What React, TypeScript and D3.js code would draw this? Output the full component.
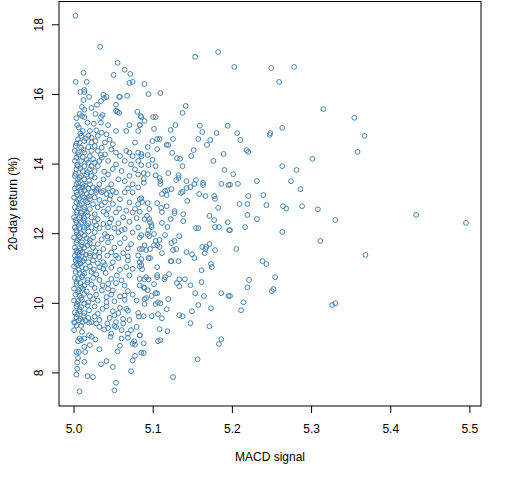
// @ts-nocheck
import React, { useEffect, useRef } from 'react';
import * as d3 from 'd3';

// sparse points to the right (MACD signal, 20-day return %)
const farPoints = [
  [5.2024, 16.79], [5.249, 16.76], [5.278, 16.79], [5.259, 16.36], [5.315, 15.58],
  [5.354, 15.33], [5.367, 14.81], [5.358, 14.35], [5.263, 15.04], [5.206, 14.89],
  [5.21, 14.69], [5.247, 14.84], [5.248, 14.89], [5.218, 14.4], [5.22, 14.35],
  [5.301, 14.15], [5.263, 13.94], [5.281, 13.83], [5.201, 13.71], [5.207, 13.43],
  [5.197, 13.41], [5.231, 13.51], [5.274, 13.51], [5.286, 13.28], [5.22, 13.08],
  [5.239, 13.11], [5.209, 12.85], [5.219, 12.85], [5.243, 12.82], [5.264, 12.79],
  [5.268, 12.72], [5.288, 12.79], [5.308, 12.7], [5.219, 12.54], [5.231, 12.42],
  [5.33, 12.39], [5.432, 12.54], [5.495, 12.31], [5.197, 12.1], [5.216, 12.19],
  [5.263, 12.05], [5.311, 11.79], [5.368, 11.39], [5.205, 11.56], [5.238, 11.21],
  [5.243, 11.13], [5.254, 10.75], [5.221, 10.67], [5.219, 10.46], [5.252, 10.41],
  [5.25, 10.35], [5.197, 10.21], [5.214, 10.03], [5.211, 9.8], [5.326, 9.95],
  [5.33, 10.0],
];

// middle band, MACD about 5.08 to 5.20
const midPoints = [
  [5.182, 17.22], [5.153, 17.08], [5.089, 16.3], [5.094, 16.01], [5.109, 16.04],
  [5.141, 15.67], [5.137, 15.47], [5.085, 15.35], [5.1, 15.35], [5.103, 15.35],
  [5.089, 15.24], [5.083, 15.12], [5.128, 15.12], [5.122, 14.98], [5.101, 15.01],
  [5.159, 15.1], [5.162, 14.92], [5.194, 15.1], [5.18, 14.89], [5.125, 14.72],
  [5.105, 14.72], [5.108, 14.72], [5.099, 14.66], [5.157, 14.72], [5.172, 14.69],
  [5.168, 14.55], [5.093, 14.49], [5.117, 14.55], [5.119, 14.55], [5.105, 14.43],
  [5.151, 14.4], [5.124, 14.32], [5.085, 14.29], [5.085, 14.22], [5.093, 14.26],
  [5.148, 14.23], [5.189, 14.29], [5.13, 14.17], [5.134, 14.15], [5.099, 14.12],
  [5.176, 14.09], [5.094, 13.97], [5.103, 13.94], [5.137, 13.94], [5.085, 13.97],
  [5.19, 13.83], [5.088, 13.74], [5.093, 13.71], [5.103, 13.68], [5.119, 13.74],
  [5.132, 13.68], [5.132, 13.6], [5.108, 13.6], [5.109, 13.51], [5.109, 13.43],
  [5.088, 13.57], [5.088, 13.46], [5.129, 13.54], [5.142, 13.51], [5.154, 13.54],
  [5.163, 13.46], [5.163, 13.4], [5.152, 13.43], [5.186, 13.43], [5.195, 13.4],
  [5.123, 13.28], [5.118, 13.25], [5.142, 13.31], [5.137, 13.2], [5.135, 13.17],
  [5.147, 13.34], [5.115, 13.23], [5.111, 13.14], [5.117, 13.11], [5.158, 13.14],
  [5.166, 13.08], [5.177, 13.08], [5.178, 13.0], [5.143, 12.94], [5.085, 13.02],
  [5.086, 12.91], [5.093, 12.88], [5.105, 12.88], [5.117, 12.79], [5.11, 12.74],
  [5.182, 12.74], [5.095, 12.71], [5.127, 12.65], [5.127, 12.59], [5.138, 12.56],
  [5.138, 12.36], [5.111, 12.62], [5.111, 12.31], [5.089, 12.42], [5.095, 12.42],
  [5.092, 12.51], [5.122, 12.42], [5.171, 12.51], [5.177, 12.39], [5.194, 12.33],
  [5.096, 12.33], [5.098, 12.25], [5.098, 12.19], [5.118, 12.19], [5.154, 12.16],
  [5.157, 12.16], [5.178, 12.19], [5.183, 12.19], [5.196, 12.1], [5.094, 12.1],
  [5.101, 11.99], [5.093, 11.99], [5.095, 11.93], [5.085, 11.96], [5.115, 11.96],
  [5.133, 11.93], [5.103, 11.79], [5.108, 11.82], [5.105, 11.67], [5.108, 11.62],
  [5.101, 11.67], [5.123, 11.73], [5.127, 11.79], [5.089, 11.67], [5.086, 11.56],
  [5.091, 11.53], [5.096, 11.56], [5.111, 11.44], [5.125, 11.53], [5.129, 11.56],
  [5.142, 11.47], [5.149, 11.41], [5.152, 11.3], [5.162, 11.62], [5.167, 11.62],
  [5.171, 11.7], [5.166, 11.56], [5.178, 11.53], [5.165, 11.44], [5.094, 11.3],
  [5.096, 11.3], [5.085, 11.27], [5.122, 11.21], [5.123, 11.21], [5.132, 11.21],
  [5.173, 11.13], [5.174, 11.04], [5.085, 11.1], [5.086, 10.98], [5.105, 11.04],
  [5.161, 10.95], [5.12, 10.84], [5.115, 10.75], [5.114, 10.69], [5.105, 10.81],
  [5.105, 10.75], [5.091, 10.75], [5.089, 10.69], [5.094, 10.69], [5.133, 10.69],
  [5.14, 10.69], [5.13, 10.58], [5.133, 10.49], [5.161, 10.61], [5.147, 10.52],
  [5.101, 10.55], [5.088, 10.46], [5.089, 10.44], [5.093, 10.38], [5.186, 10.29],
  [5.195, 10.21], [5.153, 10.29], [5.164, 10.21], [5.103, 10.29], [5.105, 10.29],
  [5.098, 10.21], [5.091, 10.15], [5.089, 10.12], [5.119, 10.12], [5.106, 10.03],
  [5.109, 10.0], [5.103, 9.98], [5.089, 9.98], [5.157, 9.95], [5.173, 9.86],
  [5.117, 9.83], [5.149, 9.77], [5.106, 9.69], [5.111, 9.57], [5.133, 9.66],
  [5.137, 9.63], [5.088, 9.63], [5.098, 9.63], [5.147, 9.43], [5.171, 9.34],
  [5.083, 9.08], [5.108, 9.26], [5.118, 9.2], [5.186, 8.97], [5.183, 8.83],
  [5.088, 8.85], [5.106, 8.91], [5.109, 8.94], [5.088, 8.57], [5.156, 8.39],
  [5.125, 7.88],
];

// upper part of the dense cluster near MACD 5.0
const denseTop = [
  [5.0017, 18.26], [5.033, 17.37], [5.055, 16.91], [5.064, 16.71], [5.071, 16.59],
  [5.012, 16.62], [5.05, 16.56], [5.002, 16.36], [5.016, 16.36], [5.07, 16.33],
  [5.074, 16.36], [5.008, 16.07], [5.013, 16.13], [5.013, 16.07], [5.037, 15.99],
  [5.041, 15.93], [5.038, 15.9], [5.019, 15.93], [5.057, 15.93], [5.058, 15.93],
  [5.067, 15.96], [5.012, 15.84], [5.034, 15.81], [5.029, 15.7], [5.053, 15.7],
  [5.01, 15.64], [5.013, 15.56], [5.022, 15.61], [5.053, 15.53], [5.055, 15.5],
  [5.057, 15.47], [5.08, 15.5], [5.007, 15.44], [5.01, 15.38], [5.013, 15.35],
  [5.027, 15.44], [5.036, 15.41], [5.034, 15.35], [5.003, 15.32], [5.084, 15.38],
  [5.017, 15.19], [5.025, 15.16], [5.034, 15.19], [5.043, 15.12], [5.07, 15.12],
  [5.083, 15.12], [5.006, 15.05], [5.011, 14.95], [5.02, 14.95], [5.028, 14.97],
  [5.035, 14.9], [5.053, 14.95], [5.066, 14.95], [5.081, 14.95], [5.009, 14.81],
  [5.018, 14.81], [5.022, 14.76], [5.03, 14.81], [5.041, 14.85], [5.005, 14.71],
  [5.013, 14.66], [5.022, 14.62], [5.003, 14.59], [5.007, 14.62], [5.039, 14.62],
  [5.049, 14.57], [5.077, 14.62], [5.009, 14.47], [5.018, 14.49], [5.026, 14.52],
  [5.035, 14.47], [5.047, 14.42], [5.066, 14.38], [5.001, 14.38], [5.005, 14.33],
  [5.013, 14.33], [5.022, 14.38], [5.03, 14.38], [5.039, 14.28], [5.053, 14.33],
  [5.07, 14.33], [5.081, 14.33], [5.003, 14.18], [5.011, 14.2], [5.02, 14.23],
  [5.024, 14.14], [5.035, 14.18], [5.058, 14.23], [5.074, 14.23], [5.001, 14.09],
  [5.009, 14.09], [5.018, 14.04], [5.026, 14.04], [5.032, 14.09], [5.043, 14.09],
  [5.064, 14.09], [5.081, 14.09], [5.005, 13.94], [5.013, 13.94], [5.022, 13.94],
  [5.03, 13.94], [5.053, 13.99], [5.072, 13.99], [5.003, 13.85], [5.011, 13.8],
  [5.02, 13.85], [5.026, 13.8], [5.06, 13.8], [5.077, 13.85], [5.001, 13.66],
  [5.009, 13.66], [5.016, 13.7], [5.022, 13.66], [5.043, 13.7], [5.07, 13.66],
  [5.081, 13.7], [5.005, 13.56], [5.013, 13.56], [5.026, 13.61], [5.037, 13.56],
  [5.056, 13.56], [5.064, 13.51], [5.003, 13.42], [5.011, 13.42], [5.02, 13.42],
  [5.032, 13.42], [5.047, 13.42], [5.074, 13.42],
];

// middle part of the dense cluster
const denseMid = [
  [5.001, 13.3], [5.005, 13.33], [5.011, 13.33], [5.018, 13.3], [5.024, 13.33],
  [5.03, 13.3], [5.037, 13.23], [5.043, 13.3], [5.049, 13.23], [5.068, 13.3],
  [5.081, 13.33], [5.003, 13.19], [5.009, 13.2], [5.016, 13.14], [5.022, 13.19],
  [5.028, 13.2], [5.035, 13.19], [5.041, 13.14], [5.053, 13.19], [5.064, 13.19],
  [5.074, 13.19], [5.0, 13.04], [5.007, 13.01], [5.013, 13.04], [5.02, 12.99],
  [5.026, 13.04], [5.032, 12.97], [5.045, 12.99], [5.058, 12.99], [5.083, 12.99],
  [5.003, 12.9], [5.01, 12.85], [5.017, 12.9], [5.024, 12.85], [5.039, 12.9],
  [5.049, 12.85], [5.07, 12.9], [5.081, 12.85], [5.001, 12.76], [5.006, 12.73],
  [5.013, 12.76], [5.02, 12.71], [5.03, 12.76], [5.043, 12.71], [5.077, 12.71],
  [5.003, 12.61], [5.009, 12.59], [5.016, 12.61], [5.026, 12.56], [5.037, 12.63],
  [5.053, 12.61], [5.066, 12.66], [5.074, 12.61], [5.083, 12.63], [5.0, 12.47],
  [5.007, 12.47], [5.013, 12.45], [5.022, 12.47], [5.03, 12.42], [5.047, 12.42],
  [5.062, 12.47], [5.079, 12.45], [5.003, 12.32], [5.009, 12.32], [5.018, 12.3],
  [5.026, 12.34], [5.037, 12.28], [5.045, 12.32], [5.056, 12.3], [5.07, 12.34],
  [5.001, 12.18], [5.007, 12.16], [5.013, 12.18], [5.022, 12.18], [5.032, 12.16],
  [5.043, 12.18], [5.051, 12.16], [5.064, 12.13], [5.081, 12.18], [5.003, 12.04],
  [5.009, 12.02], [5.018, 12.06], [5.026, 12.04], [5.039, 11.99], [5.056, 12.04],
  [5.074, 12.04], [5.0, 11.89], [5.007, 11.89], [5.016, 11.87], [5.024, 11.89],
  [5.035, 11.84], [5.047, 11.89], [5.064, 11.87], [5.083, 11.89], [5.003, 11.75],
  [5.01, 11.75], [5.02, 11.73], [5.03, 11.7], [5.043, 11.75], [5.058, 11.73],
  [5.072, 11.7], [5.001, 11.6], [5.007, 11.58], [5.013, 11.6], [5.024, 11.6],
  [5.037, 11.56], [5.051, 11.6], [5.068, 11.58], [5.083, 11.56], [5.004, 11.46],
  [5.011, 11.46], [5.02, 11.44], [5.032, 11.46], [5.047, 11.46], [5.062, 11.44],
];

// lower part of the dense cluster
const denseLow = [
  [5.001, 11.37], [5.006, 11.37], [5.01, 11.35], [5.02, 11.37], [5.026, 11.35],
  [5.032, 11.33], [5.042, 11.37], [5.053, 11.37], [5.068, 11.35], [5.081, 11.37],
  [5.002, 11.23], [5.007, 11.25], [5.011, 11.21], [5.018, 11.18], [5.024, 11.23],
  [5.03, 11.15], [5.037, 11.18], [5.049, 11.18], [5.068, 11.23], [5.083, 11.18],
  [5.0, 11.06], [5.005, 11.09], [5.01, 11.04], [5.02, 11.06], [5.032, 11.04],
  [5.037, 10.99], [5.047, 11.02], [5.058, 10.96], [5.066, 11.04], [5.074, 10.99],
  [5.083, 11.06], [5.002, 10.9], [5.007, 10.87], [5.013, 10.85], [5.022, 10.9],
  [5.028, 10.83], [5.04, 10.87], [5.07, 10.8], [5.001, 10.73], [5.005, 10.7],
  [5.01, 10.75], [5.017, 10.67], [5.024, 10.73], [5.032, 10.67], [5.047, 10.7],
  [5.06, 10.66], [5.083, 10.7], [5.003, 10.56], [5.008, 10.58], [5.013, 10.51],
  [5.022, 10.54], [5.043, 10.56], [5.053, 10.58], [5.064, 10.51], [5.083, 10.51],
  [5.0, 10.42], [5.006, 10.39], [5.011, 10.42], [5.026, 10.44], [5.035, 10.37],
  [5.043, 10.42], [5.049, 10.37], [5.068, 10.35], [5.002, 10.25], [5.007, 10.22],
  [5.013, 10.27], [5.02, 10.2], [5.028, 10.25], [5.041, 10.18], [5.058, 10.2],
  [5.064, 10.22], [5.074, 10.25], [5.0, 10.08], [5.005, 10.06], [5.01, 10.1],
  [5.018, 10.03], [5.03, 10.08], [5.041, 10.03], [5.051, 10.06], [5.064, 10.1],
  [5.079, 10.08], [5.003, 9.91], [5.009, 9.89], [5.017, 9.94], [5.026, 9.91],
  [5.041, 9.91], [5.058, 9.87], [5.066, 9.84], [5.001, 9.74], [5.007, 9.77],
  [5.013, 9.72], [5.03, 9.7], [5.049, 9.77], [5.056, 9.72], [5.068, 9.79],
  [5.081, 9.72], [5.003, 9.6], [5.008, 9.55], [5.018, 9.58], [5.026, 9.62],
  [5.032, 9.52], [5.045, 9.58], [5.062, 9.55], [5.07, 9.52], [5.082, 9.62],
  [5.0, 9.46], [5.011, 9.46], [5.022, 9.46], [5.053, 9.46],
];

// bottom of the cluster
const denseBottom = [
  [5.001, 9.44], [5.009, 9.35], [5.019, 9.44], [5.028, 9.42], [5.032, 9.32],
  [5.042, 9.42], [5.0, 9.23], [5.043, 9.29], [5.051, 9.35], [5.053, 9.32],
  [5.062, 9.42], [5.072, 9.23], [5.079, 9.32], [5.007, 8.99], [5.013, 8.99],
  [5.019, 9.08], [5.022, 9.04], [5.047, 9.13], [5.046, 9.04], [5.06, 9.23],
  [5.068, 9.13], [5.083, 9.08], [5.005, 8.91], [5.009, 8.94], [5.06, 8.99],
  [5.068, 9.01], [5.076, 8.91], [5.077, 8.81], [5.074, 8.84], [5.02, 8.8],
  [5.013, 8.75], [5.058, 8.78], [5.085, 8.58], [5.003, 8.6], [5.006, 8.6],
  [5.014, 8.6], [5.032, 8.68], [5.055, 8.62], [5.005, 8.43], [5.013, 8.32],
  [5.004, 8.3], [5.077, 8.49], [5.074, 8.36], [5.034, 8.25], [5.041, 8.34],
  [5.049, 8.17], [5.004, 8.12], [5.072, 8.05], [5.003, 7.95], [5.017, 7.91],
  [5.024, 7.88], [5.053, 7.72], [5.007, 7.47], [5.051, 7.5],
];

// overlapping circles packed against the left edge of the cluster
const denseEdge = [
  [5.004, 15.12], [5.008, 14.88], [5.015, 14.74], [5.002, 14.52], [5.012, 14.41],
  [5.006, 14.26], [5.016, 14.12], [5.004, 13.98], [5.008, 13.88], [5.017, 13.76],
  [5.002, 13.72], [5.007, 13.62], [5.019, 13.52], [5.005, 13.47], [5.014, 13.38],
  [5.008, 13.26], [5.013, 13.24], [5.004, 13.12], [5.011, 13.08], [5.019, 13.07],
  [5.005, 12.97], [5.015, 12.94], [5.007, 12.83], [5.013, 12.68], [5.004, 12.66],
  [5.017, 12.52], [5.009, 12.52], [5.002, 12.39], [5.012, 12.38], [5.006, 12.25],
  [5.016, 12.24], [5.003, 12.1], [5.012, 12.1], [5.006, 11.96], [5.013, 11.94],
  [5.02, 11.82], [5.004, 11.81], [5.01, 11.67], [5.017, 11.66], [5.003, 11.52],
  [5.008, 11.52], [5.015, 11.4], [5.004, 11.29], [5.013, 11.28], [5.008, 11.14],
  [5.003, 11.13], [5.015, 11.0], [5.006, 10.96], [5.011, 10.8], [5.003, 10.62],
  [5.017, 10.6], [5.009, 10.47], [5.005, 10.32], [5.016, 10.34], [5.009, 10.16],
  [5.004, 9.98], [5.013, 9.99], [5.007, 9.83], [5.019, 9.8], [5.004, 9.68],
  [5.012, 9.64], [5.006, 9.51], [5.015, 9.5], [5.003, 9.36], [5.01, 9.18],
  [5.027, 14.66], [5.045, 14.7], [5.034, 14.26], [5.049, 13.86], [5.038, 13.78],
  [5.028, 13.26], [5.046, 13.1], [5.035, 12.82], [5.057, 12.72], [5.041, 12.55],
  [5.028, 12.24], [5.06, 12.1], [5.042, 11.92], [5.027, 11.5], [5.056, 11.3],
  [5.039, 11.1], [5.025, 10.97], [5.054, 10.8], [5.036, 10.52], [5.047, 10.25],
  [5.024, 10.12], [5.036, 9.84], [5.051, 9.66], [5.038, 9.25], [5.027, 8.96],
];

const xTicks = [5.0, 5.1, 5.2, 5.3, 5.4, 5.5];
const yTicks = [8, 10, 12, 14, 16, 18];
const xDomain = [4.981, 5.514];
const yDomain = [7.05, 18.67];

export default function App() {
  const svgRef = useRef();

  useEffect(() => {
    const w = 512;
    const h = 480;
    const left = 59, right = 481, top = 1.5, bottom = 406;
    const font = 'Liberation Sans, Arial, sans-serif';
    const color = '#4682b4';

    const svg = d3.select(svgRef.current)
      .attr('width', w)
      .attr('height', h);
    svg.selectAll('*').remove();

    const x = d3.scaleLinear().domain(xDomain).range([left, right]);
    const y = d3.scaleLinear().domain(yDomain).range([bottom, top]);

    const data = [...farPoints, ...midPoints, ...denseTop, ...denseMid, ...denseLow, ...denseBottom, ...denseEdge];

    svg.append('g')
      .selectAll('circle')
      .data(data)
      .join('circle')
      .attr('cx', d => x(d[0]))
      .attr('cy', d => y(d[1]))
      .attr('r', 2.4)
      .attr('fill', 'none')
      .attr('stroke', color)
      .attr('stroke-width', 1);

    // box
    svg.append('rect')
      .attr('x', left).attr('y', top)
      .attr('width', right - left).attr('height', bottom - top)
      .attr('fill', 'none').attr('stroke', '#000').attr('stroke-width', 1);

    // x axis
    const gx = svg.append('g');
    gx.selectAll('line')
      .data(xTicks)
      .join('line')
      .attr('x1', d => x(d)).attr('x2', d => x(d))
      .attr('y1', bottom).attr('y2', bottom + 7)
      .attr('stroke', '#000');
    gx.selectAll('text')
      .data(xTicks)
      .join('text')
      .attr('x', d => x(d))
      .attr('y', 432.5)
      .attr('text-anchor', 'middle')
      .style('font-family', font)
      .style('font-size', '12px')
      .text(d => d.toFixed(1));

    // y axis
    const gy = svg.append('g');
    gy.selectAll('line')
      .data(yTicks)
      .join('line')
      .attr('x1', left - 7).attr('x2', left)
      .attr('y1', d => y(d)).attr('y2', d => y(d))
      .attr('stroke', '#000');
    gy.selectAll('text')
      .data(yTicks)
      .join('text')
      .attr('transform', d => `translate(42.5,${y(d)}) rotate(-90)`)
      .attr('text-anchor', 'middle')
      .style('font-family', font)
      .style('font-size', '12px')
      .text(d => d);

    svg.append('text')
      .attr('x', (left + right) / 2)
      .attr('y', 461)
      .attr('text-anchor', 'middle')
      .style('font-family', font)
      .style('font-size', '12px')
      .text('MACD signal');

    svg.append('text')
      .attr('transform', `translate(17,${(top + bottom) / 2}) rotate(-90)`)
      .attr('text-anchor', 'middle')
      .style('font-family', font)
      .style('font-size', '12px')
      .text('20-day return (%)');
  }, []);

  return <svg ref={svgRef} style={{ position: 'absolute', left: 0, top: 0, background: '#fff' }} />;
}
